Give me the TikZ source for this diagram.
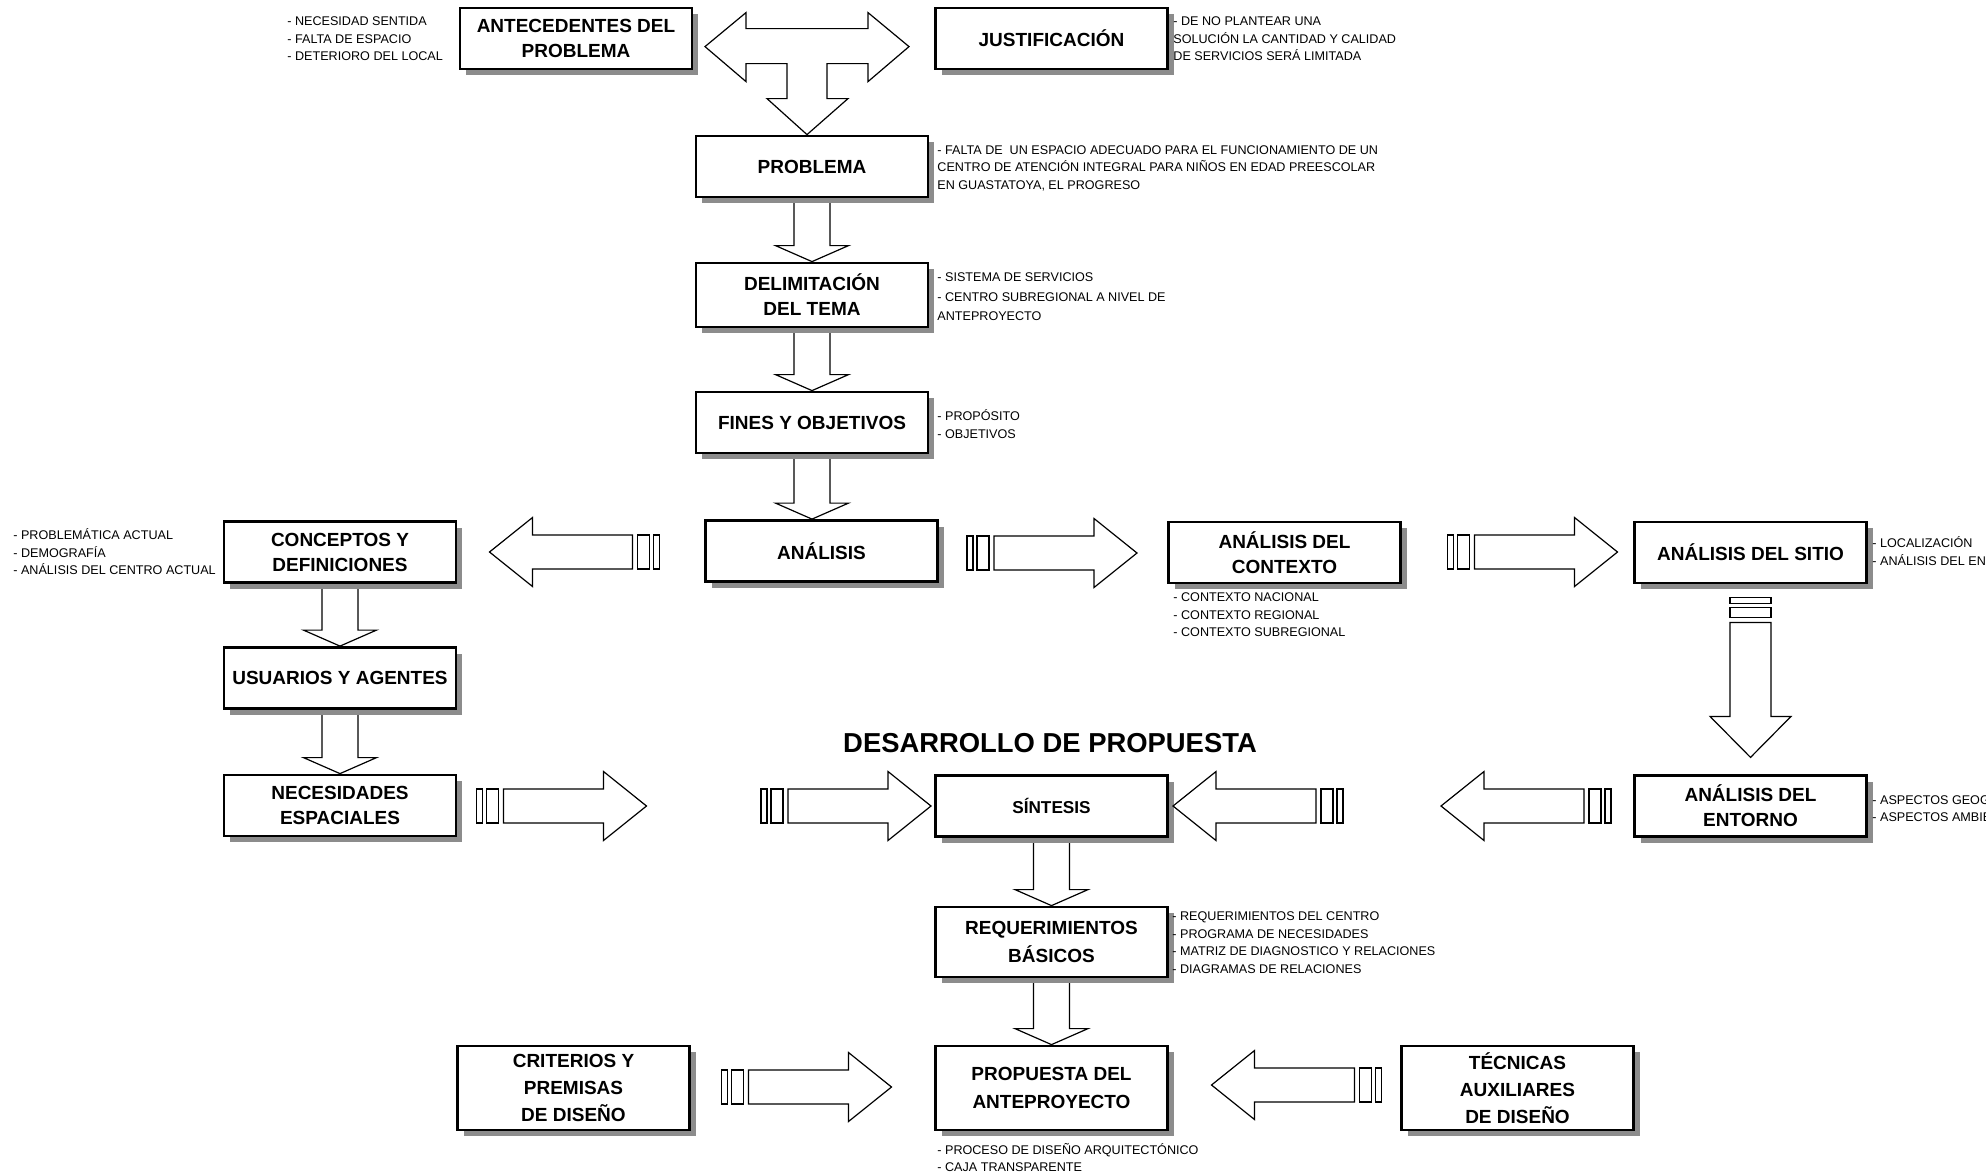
\documentclass[tikz,border=0pt]{standalone}
\usepackage{fontspec}
\setmainfont{Liberation Sans}
\usetikzlibrary{shadows,backgrounds,calc}

\tikzset{
  stripearrow/.pic={
    \draw[blk] (-85,-17) rectangle (-79,17);
    \draw[blk] (-75,-17) rectangle (-63,17);
    \draw[blk] (-58,-17) -- (42,-17) -- (42,-34.5) -- (85,0) -- (42,34.5) -- (42,17) -- (-58,17) -- cycle;
  }
}
\newcommand{\downblk}[2]{%
  \draw[blk] let \p1=(#1), \p2=(#2) in
    (\x1-9pt,\y1) -- (\x1+9pt,\y1) -- (\x1+9pt,\y2+8pt) -- (\x1+18.25pt,\y2+8pt)
    -- (\x1,\y2) -- (\x1-18.25pt,\y2+8pt) -- (\x1-9pt,\y2+8pt) -- cycle;}

\begin{document}
\begin{tikzpicture}[x=0.5pt,y=-0.5pt,
    box/.style={draw,line width=1.4pt,fill=white,minimum width=116pt,minimum height=30.5pt,
      inner sep=2pt,align=center,font=\bfseries\fontsize{9.5}{12.5}\selectfont,
      drop shadow={shadow xshift=3pt,shadow yshift=-3pt,fill=black!45,opacity=1}},
    note/.style={anchor=west,align=left,inner sep=0pt,font=\fontsize{6.3}{8.75}\selectfont},
    blk/.style={draw,line width=0.6pt,fill=white,line join=miter}]
  \useasboundingbox (0,0) rectangle (1986,1174);

  \node[box] (ante)  at (576,38.5)    {ANTECEDENTES DEL\\PROBLEMA};
  \node[box] (just)  at (1051.5,38.5) {JUSTIFICACIÓN};
  \node[box] (prob)  at (812,166.5)   {PROBLEMA};
  \node[box,minimum height=32pt] (delim) at (812,295) {DELIMITACIÓN\\DEL TEMA};
  \node[box] (fines) at (812,422.5)   {FINES Y OBJETIVOS};
  \node[box] (anal)  at (821.5,551)   {ANÁLISIS};
  \node[box] (conc)  at (340,552)     {CONCEPTOS Y\\DEFINICIONES};
  \node[box] (ctx)   at (1284.5,552.5) {ANÁLISIS DEL\\CONTEXTO};
  \node[box] (sitio) at (1750.5,552.5) {ANÁLISIS DEL SITIO};
  \node[box] (usu)   at (340,678)     {USUARIOS Y AGENTES};
  \node[box] (nec)   at (340,805.5)   {NECESIDADES\\ESPACIALES};
  \node[box,font=\bfseries\fontsize{8.6}{12}\selectfont] (sint) at (1051.5,806) {SÍNTESIS};
  \node[box] (ent)   at (1750.5,806)  {ANÁLISIS DEL\\ENTORNO};
  \node[box,minimum height=35pt,font=\bfseries\fontsize{9.5}{14}\selectfont] (req) at (1051.5,942) {REQUERIMIENTOS\\BÁSICOS};
  \node[box,minimum height=42pt,font=\bfseries\fontsize{9.5}{13.5}\selectfont] (crit) at (573.5,1088) {CRITERIOS Y\\PREMISAS\\DE DISEÑO};
  \node[box,minimum height=42pt,font=\bfseries\fontsize{9.5}{14}\selectfont] (prop) at (1051.5,1088) {PROPUESTA DEL\\ANTEPROYECTO};
  \node[box,minimum height=42pt,font=\bfseries\fontsize{9.5}{13.5}\selectfont] (tec) at (1517.5,1088) {TÉCNICAS\\AUXILIARES\\DE DISEÑO};

  \node[font=\bfseries\fontsize{13.7}{16}\selectfont] (titulo) at (1050,743) {DESARROLLO DE PROPUESTA};

  \node[note] (n-ante)  at (287,39)   {- NECESIDAD SENTIDA\\- FALTA DE ESPACIO\\- DETERIORO DEL LOCAL};
  \node[note] (n-just)  at (1173,39)  {- DE NO PLANTEAR UNA\\SOLUCIÓN LA CANTIDAD Y CALIDAD\\DE SERVICIOS SERÁ LIMITADA};
  \node[note] (n-prob)  at (937,168)  {- FALTA DE~ UN ESPACIO ADECUADO PARA EL FUNCIONAMIENTO DE UN\\CENTRO DE ATENCIÓN INTEGRAL PARA NIÑOS EN EDAD PREESCOLAR\\EN GUASTATOYA, EL PROGRESO};
  \node[note,font=\fontsize{6.3}{9.8}\selectfont] (n-delim) at (937,297) {- SISTEMA DE SERVICIOS\\- CENTRO SUBREGIONAL A NIVEL DE\\ANTEPROYECTO};
  \node[note] (n-fines) at (937,424)  {- PROPÓSITO\\- OBJETIVOS};
  \node[note] (n-conc)  at (13,552)   {- PROBLEMÁTICA ACTUAL\\- DEMOGRAFÍA\\- ANÁLISIS DEL CENTRO ACTUAL};
  \node[note] (n-ctx)   at (1173,615) {- CONTEXTO NACIONAL\\- CONTEXTO REGIONAL\\- CONTEXTO SUBREGIONAL};
  \node[note] (n-sitio) at (1872,551) {- LOCALIZACIÓN\\- ANÁLISIS DEL ENTORNO};
  \node[note] (n-ent)   at (1872,807.5) {- ASPECTOS GEOGRÁFICOS\\- ASPECTOS AMBIENTALES};
  \node[note] (n-req)   at (1172,942.5) {- REQUERIMIENTOS DEL CENTRO\\- PROGRAMA DE NECESIDADES\\- MATRIZ DE DIAGNOSTICO Y RELACIONES\\- DIAGRAMAS DE RELACIONES};
  \node[note] (n-prop)  at (937,1157.5) {- PROCESO DE DISEÑO ARQUITECTÓNICO\\- CAJA TRANSPARENTE};

  \coordinate (anal-conc) at (574.5,552);
  \coordinate (anal-ctx)  at (1052,553);
  \coordinate (ctx-sitio) at (1532.5,552);
  \coordinate (nec-out)   at (561.5,806);
  \coordinate (in-sint)   at (846,806);
  \coordinate (sint-in)   at (1258,806);
  \coordinate (ent-out)   at (1526,806);
  \coordinate (crit-prop) at (806.5,1087);
  \coordinate (tec-prop)  at (1296.5,1085);

  \begin{scope}[on background layer]
    \draw[blk,shift={($(prob.north)+(-5,0)$)}]
      (-102,-88) -- (-61,-122) -- (-61,-106) -- (61,-106) -- (61,-122) -- (102,-88)
      -- (61,-53) -- (61,-71) -- (20,-71) -- (20,-36) -- (41,-36) -- (0,0)
      -- (-40,-36) -- (-20,-36) -- (-20,-71) -- (-61,-71) -- (-61,-53) -- cycle;
    \downblk{prob.south}{delim.north}
    \downblk{delim.south}{fines.north}
    \downblk{fines.south}{anal.north}
    \downblk{conc.south}{usu.north}
    \downblk{usu.south}{nec.north}
    \downblk{sint.south}{req.north}
    \downblk{req.south}{prop.north}
    \begin{scope}[shift={(sitio.south)}]
      \draw[blk] (-20.5,13) rectangle (20.5,19);
      \draw[blk] (-20.5,23) rectangle (20.5,33);
      \draw[blk] (-20.5,38) -- (20.5,38) -- (20.5,132) -- (40.5,132) -- (0,173)
        -- (-40.5,132) -- (-20.5,132) -- cycle;
    \end{scope}
  \end{scope}

  \pic[rotate=180] at (anal-conc) {stripearrow};
  \pic at (anal-ctx) {stripearrow};
  \pic at (ctx-sitio) {stripearrow};
  \pic at (nec-out) {stripearrow};
  \pic at (in-sint) {stripearrow};
  \pic[rotate=180] at (sint-in) {stripearrow};
  \pic[rotate=180] at (ent-out) {stripearrow};
  \pic at (crit-prop) {stripearrow};
  \pic[rotate=180] at (tec-prop) {stripearrow};
\end{tikzpicture}
\end{document}
